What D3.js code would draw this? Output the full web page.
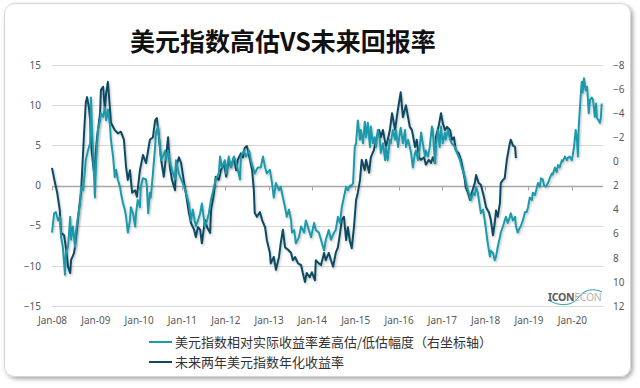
<!DOCTYPE html>
<html><head><meta charset="utf-8">
<script src="https://cdn.jsdelivr.net/npm/d3@7"></script>
<style>html,body{margin:0;padding:0;background:#fff;}svg{display:block;}</style>
</head><body>
<svg id="chart" width="640" height="388"></svg>
<script>
// ---------- DATA ----------
const title = "美元指数高估VS未来回报率";
const seriesNames = ["美元指数相对实际收益率差高估/低估幅度（右坐标轴）", "未来两年美元指数年化收益率"];
const xTickYears = [2008,2009,2010,2011,2012,2013,2014,2015,2016,2017,2018,2019,2020];
const xTickLabels = ["Jan-08","Jan-09","Jan-10","Jan-11","Jan-12","Jan-13","Jan-14","Jan-15","Jan-16","Jan-17","Jan-18","Jan-19","Jan-20"];
const leftTicks = [-15,-10,-5,0,5,10,15];
const rightTicks = [-8,-6,-4,-2,0,2,4,6,8,10,12];
const xDomain = [2008.0, 2020.72];

// future 2y annualized return of DXY (left axis) [decimal year, %]
const darkSeries = [
[2008.00,2.2],[2008.07,0.3],[2008.12,-0.9],[2008.18,-3.1],[2008.21,-5.9],[2008.28,-6.2],[2008.32,-7.7],[2008.37,-10.1],[2008.42,-10.9],[2008.44,-9.3],
[2008.51,-8.4],[2008.55,-6.8],[2008.62,-3.1],[2008.67,-0.9],[2008.74,6.5],[2008.78,10.3],[2008.81,11.0],[2008.85,9.8],[2008.88,8.2],[2008.92,4.0],
[2008.97,1.6],[2008.99,2.8],[2009.04,6.0],[2009.11,9.0],[2009.13,11.9],[2009.18,12.3],[2009.22,9.4],[2009.25,11.5],[2009.29,12.9],[2009.34,9.4],
[2009.36,7.8],[2009.45,6.9],[2009.52,6.5],[2009.59,6.7],[2009.66,5.7],[2009.71,2.3],[2009.75,0.7],[2009.80,1.9],[2009.85,-0.9],[2009.92,-0.6],
[2009.96,-1.4],[2010.03,1.9],[2010.10,3.8],[2010.17,2.8],[2010.26,5.7],[2010.33,6.0],[2010.38,8.1],[2010.42,8.4],[2010.47,6.0],[2010.52,3.2],
[2010.58,1.1],[2010.63,3.5],[2010.68,6.0],[2010.72,2.3],[2010.77,0.7],[2010.84,-0.6],[2010.86,2.3],[2010.93,3.5],[2010.98,2.8],[2011.05,0.3],
[2011.09,-0.9],[2011.16,-3.4],[2011.21,-4.7],[2011.28,-5.5],[2011.32,-6.4],[2011.37,-5.2],[2011.42,-5.5],[2011.46,-7.2],[2011.53,-4.3],[2011.58,-5.2],
[2011.65,-5.9],[2011.67,-3.1],[2011.74,-0.9],[2011.78,1.1],[2011.85,0.7],[2011.90,1.9],[2011.97,2.8],[2012.02,1.1],[2012.08,3.2],[2012.13,2.3],
[2012.20,3.5],[2012.25,1.9],[2012.29,3.2],[2012.36,4.0],[2012.41,3.5],[2012.45,4.7],[2012.50,4.9],[2012.57,3.2],[2012.62,1.9],[2012.66,-0.6],
[2012.68,-3.4],[2012.73,-3.9],[2012.80,-3.3],[2012.85,-4.3],[2012.92,-5.2],[2012.96,-6.8],[2013.03,-8.4],[2013.05,-9.7],[2013.12,-8.9],[2013.17,-10.5],
[2013.24,-8.9],[2013.28,-7.2],[2013.33,-5.5],[2013.38,-7.7],[2013.45,-8.0],[2013.52,-8.4],[2013.56,-9.3],[2013.61,-8.9],[2013.68,-9.7],[2013.75,-9.9],
[2013.79,-10.9],[2013.84,-12.0],[2013.88,-10.9],[2013.95,-11.4],[2014.00,-10.8],[2014.07,-11.8],[2014.09,-9.3],[2014.16,-9.7],[2014.21,-9.9],[2014.28,-8.4],
[2014.32,-9.3],[2014.39,-8.4],[2014.44,-9.3],[2014.49,-10.1],[2014.55,-8.4],[2014.60,-7.7],[2014.65,-5.9],[2014.69,-4.3],[2014.74,-3.9],[2014.79,-6.8],
[2014.83,-5.2],[2014.88,-7.0],[2014.92,-7.8],[2014.97,-5.2],[2015.02,-1.8],[2015.06,-0.9],[2015.11,0.7],[2015.15,3.2],[2015.22,1.9],[2015.25,3.2],
[2015.32,1.6],[2015.36,3.5],[2015.43,4.4],[2015.48,5.7],[2015.55,6.9],[2015.59,6.0],[2015.64,6.9],[2015.71,4.8],[2015.75,5.7],[2015.80,6.9],
[2015.85,9.0],[2015.92,6.9],[2015.96,8.5],[2016.01,10.3],[2016.05,11.6],[2016.10,8.5],[2016.17,10.0],[2016.22,8.5],[2016.26,7.3],[2016.31,6.9],
[2016.38,4.8],[2016.42,5.7],[2016.47,3.5],[2016.52,3.2],[2016.59,3.5],[2016.63,2.6],[2016.70,3.2],[2016.75,2.8],[2016.79,3.5],[2016.84,2.8],
[2016.86,6.0],[2016.93,7.5],[2016.98,9.0],[2017.02,7.8],[2017.07,6.9],[2017.12,7.3],[2017.19,6.9],[2017.23,5.7],[2017.28,6.0],[2017.32,4.4],
[2017.39,4.0],[2017.44,3.2],[2017.49,1.9],[2017.53,0.7],[2017.55,-0.2],[2017.60,-0.9],[2017.65,-1.8],[2017.69,-0.9],[2017.76,0.3],[2017.79,1.3],
[2017.85,0.3],[2017.90,0.1],[2017.97,-1.4],[2018.02,-2.7],[2018.09,-3.4],[2018.13,-4.3],[2018.18,-6.2],[2018.22,-4.7],[2018.25,-3.1],[2018.29,-3.9],
[2018.34,-2.2],[2018.36,0.3],[2018.41,0.7],[2018.45,0.9],[2018.50,3.2],[2018.57,5.3],[2018.59,5.7],[2018.64,5.0],[2018.69,4.8],[2018.71,3.4]
];

// DXY over/under-valuation vs real yield spread (right axis, reversed) [decimal year, value]
const cyanSeries = [
[2008.00,5.9],[2008.05,4.3],[2008.09,4.2],[2008.14,4.9],[2008.18,4.6],[2008.21,6.3],[2008.25,7.1],[2008.30,9.4],[2008.32,7.6],[2008.37,7.1],
[2008.42,4.6],[2008.44,6.5],[2008.48,5.4],[2008.53,7.1],[2008.55,5.9],[2008.60,4.6],[2008.65,3.5],[2008.67,2.1],[2008.72,2.4],[2008.76,0.7],
[2008.78,-0.1],[2008.83,-0.9],[2008.88,-1.5],[2008.90,-5.3],[2008.92,-2.9],[2008.95,-0.7],[2008.99,3.0],[2009.02,-0.1],[2009.06,-2.6],[2009.11,-3.4],
[2009.13,-4.0],[2009.18,-3.7],[2009.22,-4.5],[2009.25,-3.4],[2009.29,-4.3],[2009.34,-2.9],[2009.36,-1.8],[2009.41,-0.4],[2009.45,1.3],[2009.48,0.7],
[2009.52,1.5],[2009.57,2.1],[2009.59,2.6],[2009.64,3.5],[2009.68,4.0],[2009.71,4.6],[2009.75,5.9],[2009.80,4.9],[2009.82,3.8],[2009.87,4.3],
[2009.92,5.4],[2009.94,4.3],[2009.98,3.2],[2010.03,3.8],[2010.05,2.1],[2010.10,1.4],[2010.17,1.5],[2010.19,2.1],[2010.22,4.3],[2010.26,2.6],
[2010.28,3.0],[2010.33,1.0],[2010.38,-1.2],[2010.40,-2.4],[2010.45,-2.9],[2010.49,-1.2],[2010.52,-0.1],[2010.56,-0.4],[2010.61,-0.9],[2010.63,-0.1],
[2010.68,-0.9],[2010.72,-0.1],[2010.77,0.7],[2010.84,1.5],[2010.86,-0.1],[2010.93,1.0],[2010.98,1.5],[2011.05,2.1],[2011.09,2.6],[2011.16,3.5],
[2011.21,4.9],[2011.25,4.0],[2011.32,5.4],[2011.37,4.9],[2011.42,4.3],[2011.46,3.5],[2011.53,5.4],[2011.58,4.9],[2011.62,4.3],[2011.67,3.2],
[2011.74,2.1],[2011.78,1.5],[2011.85,1.0],[2011.88,-0.4],[2011.92,0.5],[2011.99,-0.1],[2012.02,1.0],[2012.08,-0.4],[2012.13,0.5],[2012.20,-0.4],
[2012.25,0.1],[2012.29,0.7],[2012.34,1.5],[2012.36,-0.4],[2012.43,-0.9],[2012.48,-0.4],[2012.55,-0.9],[2012.59,-0.1],[2012.64,0.5],[2012.68,1.0],
[2012.75,0.5],[2012.82,0.5],[2012.87,-0.4],[2012.92,0.5],[2012.96,1.0],[2013.03,0.7],[2013.08,1.8],[2013.12,3.0],[2013.17,1.8],[2013.24,2.4],
[2013.28,2.1],[2013.33,3.0],[2013.38,3.8],[2013.42,4.6],[2013.47,4.0],[2013.52,4.9],[2013.54,5.9],[2013.59,5.7],[2013.63,6.8],[2013.70,6.3],
[2013.75,5.4],[2013.82,5.9],[2013.86,4.9],[2013.93,5.7],[2013.98,6.3],[2014.05,5.1],[2014.09,5.7],[2014.16,5.9],[2014.21,6.5],[2014.28,7.4],
[2014.32,6.5],[2014.39,5.7],[2014.44,6.5],[2014.51,5.9],[2014.55,5.7],[2014.60,4.6],[2014.65,5.1],[2014.69,3.8],[2014.76,2.6],[2014.79,2.1],
[2014.83,2.4],[2014.88,2.0],[2014.90,2.1],[2014.95,1.8],[2014.99,-1.2],[2015.02,-1.5],[2015.06,-3.4],[2015.11,-1.8],[2015.13,-2.6],[2015.18,-1.5],
[2015.22,-3.3],[2015.25,-2.0],[2015.29,-3.2],[2015.34,-1.2],[2015.36,-2.9],[2015.41,-1.5],[2015.45,-2.0],[2015.48,-1.2],[2015.52,-2.6],[2015.57,-1.8],
[2015.59,-0.7],[2015.64,-1.5],[2015.69,-0.1],[2015.71,-1.2],[2015.75,-0.1],[2015.80,-1.8],[2015.82,-1.5],[2015.87,-2.6],[2015.92,-1.8],[2015.94,-2.6],
[2015.99,-1.2],[2016.03,-2.4],[2016.05,-2.8],[2016.10,-1.5],[2016.15,-2.6],[2016.17,-1.2],[2016.22,-1.8],[2016.26,-1.2],[2016.29,-0.7],[2016.33,0.5],
[2016.38,-0.7],[2016.40,-0.9],[2016.45,-0.1],[2016.49,-1.2],[2016.52,-2.4],[2016.56,-1.5],[2016.61,-0.4],[2016.63,-0.9],[2016.68,-0.4],[2016.72,-1.2],
[2016.77,-2.9],[2016.79,-2.6],[2016.84,0.1],[2016.86,-1.2],[2016.91,-2.6],[2016.95,-1.2],[2016.98,-2.9],[2017.02,-1.5],[2017.07,-2.4],[2017.09,-1.8],
[2017.14,-2.6],[2017.19,-1.8],[2017.23,-1.5],[2017.30,-1.2],[2017.35,-0.7],[2017.42,-0.1],[2017.46,0.5],[2017.53,1.3],[2017.58,2.1],[2017.65,3.0],
[2017.67,3.2],[2017.72,2.6],[2017.76,2.8],[2017.79,2.1],[2017.83,2.6],[2017.88,3.8],[2017.90,4.3],[2017.95,4.0],[2017.99,4.9],[2018.02,5.7],
[2018.06,6.8],[2018.11,7.9],[2018.13,7.4],[2018.18,7.6],[2018.22,8.2],[2018.25,7.9],[2018.29,7.1],[2018.34,6.3],[2018.36,5.9],[2018.41,5.4],
[2018.45,4.9],[2018.48,4.6],[2018.52,5.1],[2018.57,4.6],[2018.59,4.3],[2018.64,4.9],[2018.69,4.6],[2018.71,5.4],[2018.75,5.9],[2018.80,5.5],
[2018.82,5.4],[2018.87,4.9],[2018.92,4.2],[2018.96,4.2],[2018.99,3.8],[2019.03,3.0],[2019.08,3.2],[2019.10,2.6],[2019.15,2.8],[2019.19,2.2],
[2019.22,1.8],[2019.26,2.1],[2019.29,1.4],[2019.33,1.5],[2019.36,2.0],[2019.40,2.1],[2019.45,1.8],[2019.49,1.4],[2019.54,1.0],[2019.56,1.1],
[2019.61,0.5],[2019.65,0.9],[2019.68,0.3],[2019.72,0.5],[2019.77,-0.1],[2019.79,0.0],[2019.84,-0.4],[2019.89,-0.1],[2019.91,-0.3],[2019.95,-0.4],
[2020.00,-0.1],[2020.02,-0.5],[2020.05,-1.2],[2020.09,-2.6],[2020.12,-1.8],[2020.14,-0.4],[2020.16,-2.9],[2020.21,-5.7],[2020.23,-6.6],[2020.25,-5.7],
[2020.28,-6.9],[2020.32,-5.9],[2020.35,-6.2],[2020.37,-5.3],[2020.39,-4.0],[2020.42,-5.1],[2020.46,-5.3],[2020.49,-5.1],[2020.53,-3.7],[2020.56,-4.8],
[2020.58,-3.6],[2020.62,-3.4],[2020.65,-3.2],[2020.67,-3.6],[2020.69,-4.8]
];

const colors = {cyan: "#1e9aab", dark: "#0c4a61", grid: "#d9d9d9", zero: "#a6a6a6", text: "#595959"};

// ---------- DRAW ----------
const svg = d3.select("#chart");
const defs = svg.append("defs");
const sh = defs.append("filter").attr("id","cardShadow").attr("x","-5%").attr("y","-5%").attr("width","110%").attr("height","112%");
sh.append("feDropShadow").attr("dx",2).attr("dy",2).attr("stdDeviation",2).attr("flood-color","#000").attr("flood-opacity",0.35);
const lsh = defs.append("filter").attr("id","lineShadow").attr("x","-5%").attr("y","-5%").attr("width","110%").attr("height","110%");
lsh.append("feDropShadow").attr("dx",1).attr("dy",1.5).attr("stdDeviation",1).attr("flood-color","#000").attr("flood-opacity",0.25);

svg.append("rect").attr("x",4.5).attr("y",3.5).attr("width",626).attr("height",373).attr("rx",10)
  .attr("fill","#fff").attr("stroke","#d6d6d6").attr("filter","url(#cardShadow)");

svg.append("text").attr("x",130).attr("y",51).attr("font-family","'Noto Sans CJK SC'").attr("font-weight","bold")
  .attr("font-size",25).attr("fill","#111").text(title);

const x = d3.scaleLinear().domain(xDomain).range([52, 603]);
const yL = d3.scaleLinear().domain([-15, 15]).range([306, 65]);
const yR = d3.scaleLinear().domain([12, -8]).range([306, 65]);

// gridlines
svg.append("g").selectAll("line").data(leftTicks.filter(d => d !== 0)).join("line")
  .attr("x1", 52).attr("x2", 603).attr("y1", d => Math.round(yL(d)) + 0.5).attr("y2", d => Math.round(yL(d)) + 0.5)
  .attr("stroke", colors.grid).attr("stroke-width", 1);

// zero axis with ticks
const zy = Math.round(yL(0)) + 0.5;
svg.append("line").attr("x1",52).attr("x2",603).attr("y1",zy).attr("y2",zy).attr("stroke",colors.zero).attr("stroke-width",1.3);
svg.append("g").selectAll("line").data(xTickYears).join("line")
  .attr("x1", d => Math.round(x(d)) + 0.5).attr("x2", d => Math.round(x(d)) + 0.5)
  .attr("y1", zy).attr("y2", zy + 4).attr("stroke", colors.zero);

const fontAxis = "'Noto Sans', 'DejaVu Sans', sans-serif";
// left axis
const gL = svg.append("g").attr("transform","translate(44,0)")
  .call(d3.axisLeft(yL).tickValues(leftTicks).tickSize(0).tickPadding(3).tickFormat(d3.format("d")));
gL.select(".domain").remove();
gL.selectAll("text").attr("font-family", fontAxis).attr("font-size", 10).attr("fill", colors.text);

// right axis
const gR = svg.append("g").attr("transform","translate(610,0)")
  .call(d3.axisRight(yR).tickValues(rightTicks).tickSize(0).tickPadding(3).tickFormat(d3.format("d")));
gR.select(".domain").remove();
gR.selectAll("text").attr("font-family", fontAxis).attr("font-size", 10).attr("fill", colors.text);

// bottom labels
const gB = svg.append("g").attr("transform","translate(0,306)")
  .call(d3.axisBottom(x).tickValues(xTickYears).tickSize(0).tickPadding(11).tickFormat((d,i) => xTickLabels[i]));
gB.select(".domain").remove();
gB.selectAll("text").attr("font-family", fontAxis).attr("font-size", 10).attr("fill", colors.text);

// lines
const lineL = d3.line().x(d => x(d[0])).y(d => yL(d[1]));
const lineR = d3.line().x(d => x(d[0])).y(d => yR(d[1]));
svg.append("path").datum(darkSeries).attr("d", lineL).attr("fill","none").attr("stroke",colors.dark)
  .attr("stroke-width",2).attr("stroke-linejoin","round").attr("filter","url(#lineShadow)");
svg.append("path").datum(cyanSeries).attr("d", lineR).attr("fill","none").attr("stroke",colors.cyan)
  .attr("stroke-width",2).attr("stroke-linejoin","round").attr("filter","url(#lineShadow)");

// logo
const logo = svg.append("g");
logo.append("path").attr("d","M548,300 C560,307 572,306 578,298 C584,289 594,288 602,292")
  .attr("fill","none").attr("stroke","#2a9fb0").attr("stroke-width",1);
logo.append("text").attr("x",548).attr("y",301).attr("font-family","'Noto Sans', sans-serif").attr("font-size",10.5)
  .attr("font-weight","bold").attr("fill","#5a5a5a").attr("letter-spacing",-0.3)
  .text("ICON").append("tspan").attr("font-weight","normal").attr("fill","#b5b5b5").text("ECON");

// legend
const legend = svg.append("g");
const legendColors = [colors.cyan, colors.dark];
seriesNames.forEach((name, i) => {
  const ly = 342 + i * 20;
  legend.append("line").attr("x1",149).attr("x2",172).attr("y1",ly).attr("y2",ly)
    .attr("stroke",legendColors[i]).attr("stroke-width",2);
  legend.append("text").attr("x",175).attr("y",ly).attr("dy","0.35em")
    .attr("font-family","'Noto Sans CJK SC'").attr("font-size",13).attr("fill","#333").text(name);
});
</script>
</body></html>
